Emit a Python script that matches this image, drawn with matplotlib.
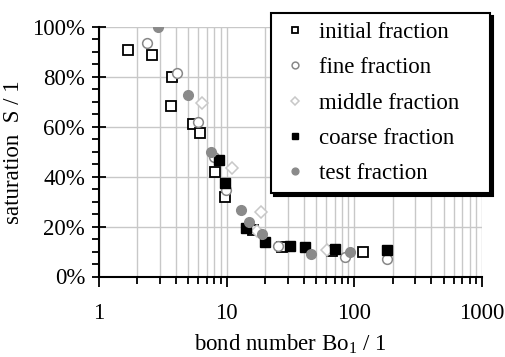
import matplotlib
matplotlib.use("Agg")
import matplotlib.pyplot as plt
from matplotlib.ticker import FixedLocator, LogLocator, NullFormatter, FuncFormatter

plt.rcParams['font.family'] = ['Liberation Serif', 'DejaVu Serif']
plt.rcParams['mathtext.fontset'] = 'custom'
plt.rcParams['mathtext.rm'] = 'Liberation Serif'

# data (bond number, saturation in %)
initial_x = [1.68, 2.59, 3.75, 3.64, 5.42, 6.18, 8.1, 9.7, 16.2, 27.0, 66.4, 117]
initial_y = [90.8, 88.8, 79.8, 68.3, 61.1, 57.4, 42.0, 31.7, 18.6, 11.9, 10.2, 9.9]

fine_x = [2.36, 4.06, 6.0, 7.95, 9.8, 25.4, 84.4, 181]
fine_y = [93.5, 81.4, 62.0, 48.0, 34.7, 12.3, 7.9, 7.0]

middle_x = [6.44, 11.1, 18.6, 17.3, 60.7]
middle_y = [69.4, 43.4, 26.0, 18.2, 10.6]

coarse_x = [8.7, 9.7, 14.1, 20.0, 31.3, 41.4, 70.5, 179]
coarse_y = [46.7, 37.4, 19.6, 13.9, 12.3, 11.8, 11.0, 10.6]

test_x = [2.91, 4.95, 7.54, 12.9, 15.0, 18.8, 45.7, 92.4]
test_y = [100.0, 72.7, 49.8, 26.7, 21.7, 16.9, 9.0, 9.9]

fs = 16.5

fig = plt.figure(figsize=(5.06, 3.57), dpi=100)
ax = fig.add_axes([99/506, 1-276.5/357, (482-99)/506, (276.5-27)/357])

ax.plot(initial_x, initial_y, ls='none', marker='s', ms=7, mfc='white', mec='black', mew=1.3,
        label='initial fraction', zorder=3)
ax.plot(fine_x, fine_y, ls='none', marker='o', ms=7, mfc='white', mec='#888888', mew=1.1,
        label='fine fraction', zorder=3)
ax.plot(middle_x, middle_y, ls='none', marker='D', ms=6, mfc='white', mec='#c8c8c8', mew=1.1,
        label='middle fraction', zorder=3)
ax.plot(coarse_x, coarse_y, ls='none', marker='s', ms=7, mfc='black', mec='black',
        label='coarse fraction', zorder=4)
ax.plot(test_x, test_y, ls='none', marker='o', ms=7, mfc='#8a8a8a', mec='#8a8a8a',
        label='test fraction', zorder=4)

ax.set_xscale('log')
ax.set_xlim(1, 1000)
ax.set_ylim(0, 100)
ax.set_xticks([1, 10, 100, 1000])
ax.set_xticklabels(['1', '10', '100', '1000'])
ax.xaxis.set_minor_locator(LogLocator(base=10, subs=range(2, 10)))
ax.xaxis.set_minor_formatter(NullFormatter())
ax.set_yticks([0, 20, 40, 60, 80, 100])
ax.yaxis.set_minor_locator(FixedLocator(range(0, 101, 5)))
ax.yaxis.set_major_formatter(FuncFormatter(lambda v, p: '%d%%' % v))

ax.grid(True, which='major', axis='y', color='#c8c8c8', lw=1)
ax.grid(True, which='both', axis='x', color='#c8c8c8', lw=1)
ax.set_axisbelow(True)

for s in ['top', 'right']:
    ax.spines[s].set_visible(False)
for s in ['left', 'bottom']:
    ax.spines[s].set_linewidth(1.5)

ax.tick_params(axis='x', which='major', direction='out', length=7, width=1.3, pad=12, labelsize=fs)
ax.tick_params(axis='x', which='minor', direction='out', length=5, width=1.3)
ax.tick_params(axis='y', which='major', direction='inout', length=10, width=1.3, pad=5, labelsize=fs)
ax.tick_params(axis='y', which='minor', direction='out', length=5, width=1.3)

ax.set_xlabel('bond number Bo$_\\mathregular{1}$ / 1', fontsize=fs, labelpad=6)
ax.set_ylabel('saturation  S / 1', fontsize=fs, labelpad=6)

# legend box: x 271..490 px, y 13..192 px
leg = ax.legend(loc='upper left',
                bbox_to_anchor=(271/506, 1-192/357, (490-271)/506, (192-13)/357),
                bbox_transform=fig.transFigure, borderaxespad=0, mode='expand',
                fancybox=False, framealpha=1, edgecolor='black', fontsize=fs,
                markerscale=0.7, numpoints=1, handlelength=1.3, handletextpad=0.4,
                labelspacing=0.62, borderpad=0.4,
                shadow={'color': 'black', 'alpha': 1})
leg.get_frame().set_linewidth(1.5)

fig.savefig('out.png', dpi=100)
